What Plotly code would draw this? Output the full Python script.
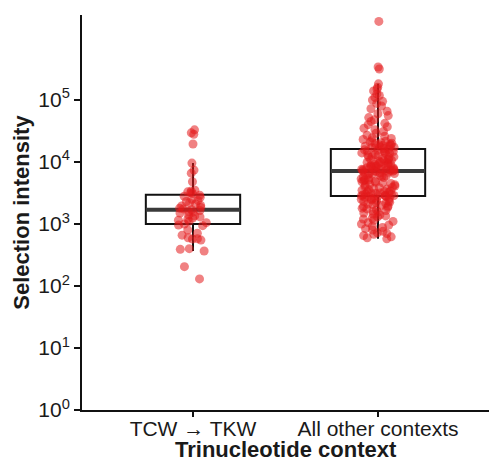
import plotly.graph_objects as go

categories = ["TCW \u2192 TKW", "All other contexts"]

# Box statistics
box_q1 = [1000, 2820]
box_median = [1690, 7160]
box_q3 = [2950, 16200]
box_lower = [366, 575]
box_upper = [9600, 182000]

# Individual selection intensities (points)
tcw_values = [
    33000, 29500, 28000, 19500, 9600, 7400, 6600, 4800,
    3500, 3400, 3300, 3200,
    3100, 2900, 2800, 2700, 2500, 2400, 2300, 2200, 2100, 2000,
    1950, 1850, 1800, 1750, 1700, 1650, 1600, 1550, 1500, 1400,
    1350, 1300, 1250, 1200, 1150, 1100, 1050, 1000,
    960, 940, 800, 710, 660, 600, 580, 570, 550, 400, 390, 366, 205, 130,
]

other_values = [
    1850000, 340000, 315000,
    182000, 160000, 150000, 140000, 125000, 118000, 110000, 100000,
    95000, 88000, 80000, 72000, 66000, 60000, 56000, 52000,
    48000, 45000, 42000, 40000, 37000, 35000, 33000, 31000, 29000, 27000, 26000,
    24500, 24000, 23000, 22000, 21500, 21000, 20500, 20000, 19800, 19500,
    19000, 18800, 18500, 18000, 17800, 17500, 17200, 17000, 16800, 16500,
    16000, 15700, 15400, 15200, 15000, 14700, 14300, 14000, 13800, 13600,
    13200, 12900, 12600, 12300, 12100, 12000, 11700, 11400, 11100, 11000,
    10800, 10500, 10300, 10000, 9900, 9800, 9600, 9400, 9200, 9100,
    9000, 8800, 8700, 8600, 8500, 8400, 8200, 8100, 8000, 7900,
    7800, 7700, 7600, 7550, 7500, 7400, 7350, 7300, 7250, 7200,
    7100, 7000, 6900, 6800, 6700, 6600, 6500, 6350, 6200, 6100,
    6000, 5850, 5700, 5600, 5500, 5350, 5200, 5100, 5000, 4900,
    4800, 4700, 4600, 4500, 4400, 4300, 4200, 4100, 4000, 3900,
    3850, 3750, 3650, 3550, 3500, 3400, 3350, 3300, 3250, 3200,
    3150, 3100, 3050, 3000, 2950, 2900, 2880, 2860, 2840, 2830,
    2800, 2750, 2700, 2650, 2600, 2550, 2500, 2450, 2400, 2350,
    2300, 2250, 2200, 2150, 2100, 2050, 2000, 1950, 1900, 1850,
    1800, 1750, 1700, 1650, 1600, 1550, 1500, 1450, 1400, 1350,
    1300, 1250, 1200, 1150, 1100, 1050, 1000, 960, 920, 880,
    840, 800, 760, 720, 700, 680, 650, 620, 600, 575,
]

y_tickvals = [1, 10, 100, 1000, 10000, 100000]
y_ticktext = ["10<sup>0</sup>", "10<sup>1</sup>", "10<sup>2</sup>",
              "10<sup>3</sup>", "10<sup>4</sup>", "10<sup>5</sup>"]

x_title = "Trinucleotide context"
y_title = "Selection intensity"

FONT = "Liberation Sans, Arial, Helvetica, sans-serif"
BOX_W = 0.51

fig = go.Figure()

# Box outlines
fig.add_trace(go.Box(
    x=categories, q1=box_q1, median=box_median, q3=box_q3,
    lowerfence=box_lower, upperfence=box_upper,
    width=BOX_W, whiskerwidth=0, boxpoints=False,
    fillcolor="rgba(255,255,255,0)",
    line=dict(color="#111111", width=2),
    showlegend=False, hoverinfo="skip",
))
# Thicker median line
fig.add_trace(go.Box(
    x=categories, q1=box_median, median=box_median, q3=box_median,
    lowerfence=box_median, upperfence=box_median,
    width=BOX_W, whiskerwidth=0, boxpoints=False,
    fillcolor="rgba(255,255,255,0)",
    line=dict(color="#3a3a3a", width=4),
    showlegend=False, hoverinfo="skip",
))

# Jittered points (box itself hidden)
for cat, vals in [(categories[0], tcw_values), (categories[1], other_values)]:
    fig.add_trace(go.Box(
        x=[cat] * len(vals), y=vals,
        width=BOX_W, boxpoints="all", jitter=0.36, pointpos=0,
        fillcolor="rgba(0,0,0,0)",
        line=dict(color="rgba(0,0,0,0)", width=0),
        marker=dict(color="rgba(228,26,28,0.55)", size=9,
                    line=dict(width=0)),
        showlegend=False, hoverinfo="skip",
    ))

fig.update_layout(
    width=490, height=467,
    margin=dict(l=82, r=1, t=15, b=57, autoexpand=False),
    plot_bgcolor="white", paper_bgcolor="white",
    boxmode="overlay",
    font=dict(family=FONT, color="#1a1a1a"),
    xaxis=dict(
        type="category", categoryorder="array", categoryarray=categories,
        range=[-0.6, 1.6], automargin=False,
        showline=True, linecolor="#111111", linewidth=2,
        ticks="outside", ticklen=5, tickwidth=2, tickcolor="#111111",
        tickfont=dict(size=21, color="#1a1a1a"),
        ticklabelstandoff=-6,
        showgrid=False, zeroline=False,
    ),
    yaxis=dict(
        type="log", range=[0, 6.37], automargin=False,
        tickvals=y_tickvals, ticktext=y_ticktext,
        showline=True, linecolor="#111111", linewidth=2,
        ticks="outside", ticklen=6, tickwidth=2, tickcolor="#111111",
        tickfont=dict(size=21, color="#1a1a1a"),
        showgrid=False, zeroline=False,
        title=dict(text=f"<b>{y_title}</b>",
                   font=dict(size=22, color="#1a1a1a"), standoff=3),
    ),
)

fig.add_annotation(
    text=f"<b>{x_title}</b>", xref="paper", yref="paper",
    x=0.5, y=-0.099, xanchor="center", yanchor="middle",
    showarrow=False, font=dict(size=22, color="#1a1a1a"),
)

fig.write_html("out.html", config={"displayModeBar": False},
               post_script="document.body.style.margin='0';")
